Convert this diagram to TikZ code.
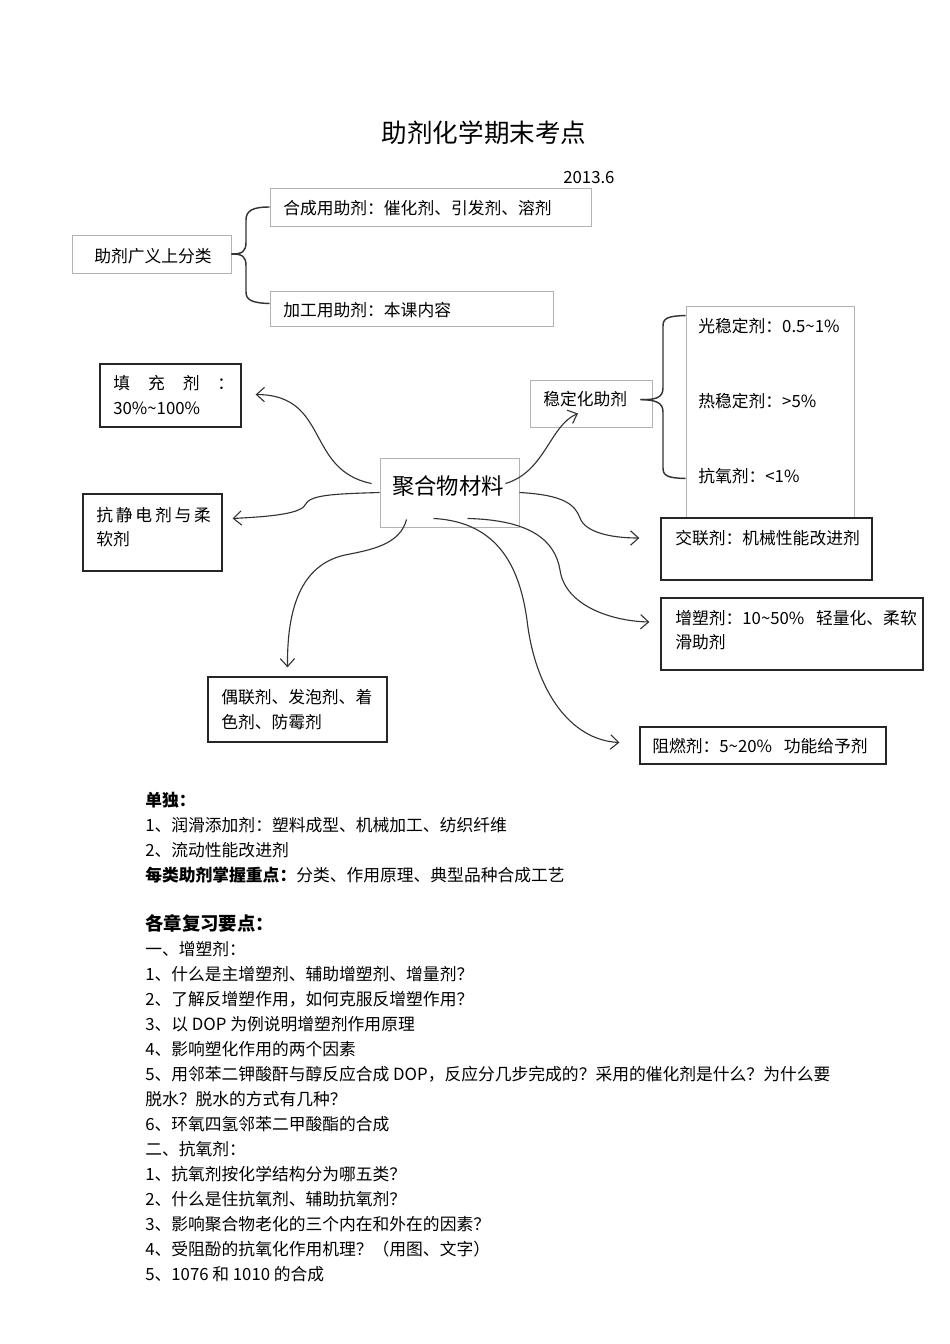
\documentclass[tikz,border=0pt]{standalone}
\usepackage{fontspec}
\setmainfont{Noto Sans CJK SC}
\usetikzlibrary{arrows.meta,fit,calc}

\tikzset{
  gbox/.style={draw=black!30, line width=0.6pt, inner sep=0pt},
  kbox/.style={draw=black!85, line width=0.8pt, fill=white, inner sep=0pt},
  txt/.style={anchor=base west, inner sep=0pt},
  curly/.style={draw=black!80, line width=0.9pt},
  arr/.style={draw=black!80, line width=0.7pt, -{Straight Barb[length=5pt,width=9pt]}},
}

\begin{document}
\begin{tikzpicture}[x=0.626pt, y=-0.626pt, font=\fontsize{10.5}{12.6}\selectfont]
\useasboundingbox (0,0) rectangle (950,1344);

% title
\node[font=\fontsize{16}{19}\selectfont] (title) at (484,133) {助剂化学期末考点};
\node[txt] (date) at (563,183) {2013.6};

% broad classification
\node[gbox, fit={(72,235) (231,273)}] (fl) {};
\node[txt] (fl-t) at (94,262) {助剂广义上分类};
\node[gbox, fit={(270,188) (591,226)}] (hc) {};
\node[txt] (hc-t) at (283,214) {合成用助剂：催化剂、引发剂、溶剂};
\node[gbox, fit={(270,291) (553,326)}] (jg) {};
\node[txt] (jg-t) at (283,316) {加工用助剂：本课内容};

\draw[curly] (fl.east) .. controls (242,254) and (246,252) .. (246,242) -- (246,220)
  .. controls (246,211) and (252,207) .. (hc.west);
\draw[curly] (fl.east) .. controls (242,254) and (246,256) .. (246,266) -- (246,292)
  .. controls (246,300) and (252,303) .. ($(jg.west)+(0,-5)$);

% stabilizers
\node[gbox, fit={(530,380) (652,427)}] (wd) {};
\node[txt] (wd-t) at (543,405) {稳定化助剂};
\node[gbox, fit={(686,306) (854,518)}] (wdl) {};
\node[txt] (gw) at (698,332) {光稳定剂：0.5\textasciitilde1\%};
\node[txt] (rw) at (698,407) {热稳定剂：>5\%};
\node[txt] (ky) at (698,482) {抗氧剂：<1\%};
\coordinate (wd-tip) at ($(wd.east)+(-12,-4)$);
\draw[curly] (wd-tip) .. controls (655,400) and (663,398) .. (663,388) -- (663,326)
  .. controls (663,318) and (668,316) .. ($(wdl.north west)+(0,10)$);
\draw[curly] (wd-tip) .. controls (655,400) and (663,402) .. (663,412) -- (663,468)
  .. controls (663,476) and (668,478) .. ($(wdl.south west)+(0,-40)$);

% centre
\node[gbox, fit={(380,458) (519,527)}] (jh) {};
\node[font=\fontsize{14}{17}\selectfont] (jh-t) at (448,486) {聚合物材料};

% left
\node[kbox, fit={(100,364) (241,427)}] (tc) {};
\node[txt] (tc-t1) at (113,389) {填\hspace{1.07em}充\hspace{1.07em}剂\hspace{1.07em}：};
\node[txt] (tc-t2) at (113,414) {30\%\textasciitilde100\%};
\node[kbox, fit={(83,494) (222,571)}] (kj) {};
\node[txt] (kj-t1) at (96,521) {抗\,静\,电\,剂\,与\,柔};
\node[txt] (kj-t2) at (96,545) {软剂};
\node[kbox, fit={(208,677) (387,742)}] (ol) {};
\node[txt] (ol-t1) at (221,703) {偶联剂、发泡剂、着};
\node[txt] (ol-t2) at (221,728) {色剂、防霉剂};

% right
\node[kbox, fit={(661,518) (872,580)}] (jl) {};
\node[txt] (jl-t) at (675,544) {交联剂：机械性能改进剂};
\node[kbox, fit={(661,598) (923,670)}] (zs) {};
\node[txt] (zs-t1) at (675,624) {增塑剂：10\textasciitilde50\%\hspace{0.7em}轻量化、柔软};
\node[txt] (zs-t2) at (675,648) {滑助剂};
\node[kbox, fit={(640,727) (886,764)}] (zr) {};
\node[txt] (zr-t) at (652,752) {阻燃剂：5\textasciitilde20\%\hspace{0.7em}功能给予剂};

% arrows out of the centre
\draw[arr] ($(jh.west)+(-8,-9)$) .. controls (305,470) and (330,395) .. ($(tc.east)+(14,-1)$);
\draw[arr] (jh.west) .. controls (330,494) and (310,495) .. (305,505)
  .. controls (300,515) and (260,517) .. ($(kj.east)+(10,-14)$);
\draw[arr] ($(jh.east)+(-14,-9)$) .. controls (545,472) and (550,425) .. ($(wd.south)+(-13,-14)$);
\draw[arr] (jh.east) .. controls (565,495) and (575,505) .. (580,518)
  .. controls (585,532) and (610,538) .. ($(jl.west)+(-21,-11)$);
\draw[arr] ($(jh.south)+(18,-9)$) .. controls (530,520) and (555,540) .. (560,570)
  .. controls (565,605) and (610,621) .. ($(zs.west)+(-11,-12)$);
\draw[arr] ($(jh.south)+(-16,-9)$) .. controls (500,522) and (520,570) .. (527,620)
  .. controls (535,690) and (570,740) .. ($(zr.west)+(-20,-3)$);
\draw[arr] ($(jh.south)+(-43,-8)$) .. controls (400,545) and (370,550) .. (345,555)
  .. controls (300,565) and (287,610) .. ($(ol.north)+(-10,-9)$);

% notes
\foreach \t [count=\i from 0] in {{{\bfseries 单独：}},
  {1、润滑添加剂：塑料成型、机械加工、纺织纤维},
  {2、流动性能改进剂},
  {{\bfseries 每类助剂掌握重点：}分类、作用原理、典型品种合成工艺}}
  \node[txt] (dd\i) at (145,806+25*\i) {\t};

\node[txt, font=\fontsize{11.5}{14}\bfseries] (yd) at (145,930) {各章复习要点：};

\foreach \t [count=\i from 0] in {{一、增塑剂：},
  {1、什么是主增塑剂、辅助增塑剂、增量剂？},
  {2、了解反增塑作用，如何克服反增塑作用？},
  {3、以 DOP 为例说明增塑剂作用原理},
  {4、影响塑化作用的两个因素},
  {5、用邻苯二钾酸酐与醇反应合成 DOP，反应分几步完成的？采用的催化剂是什么？为什么要},
  {脱水？脱水的方式有几种？},
  {6、环氧四氢邻苯二甲酸酯的合成},
  {二、抗氧剂：},
  {1、抗氧剂按化学结构分为哪五类？},
  {2、什么是住抗氧剂、辅助抗氧剂？},
  {3、影响聚合物老化的三个内在和外在的因素？},
  {4、受阻酚的抗氧化作用机理？（用图、文字）},
  {5、1076 和 1010 的合成}}
  \node[txt] (fx\i) at (145,955+25*\i) {\t};
\end{tikzpicture}
\end{document}
